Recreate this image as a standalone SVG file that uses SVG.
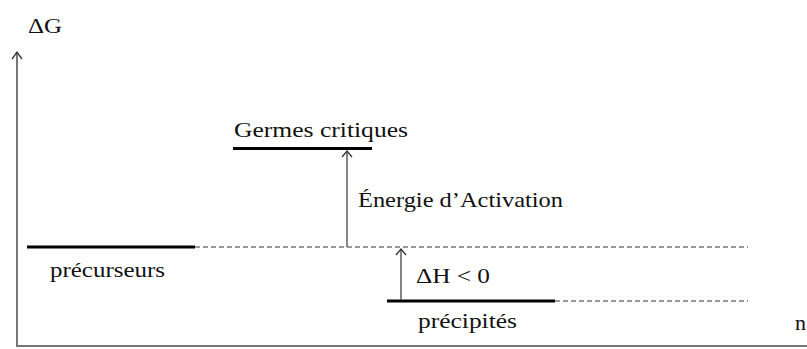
<svg xmlns="http://www.w3.org/2000/svg" width="807" height="349" viewBox="0 0 807 349">
<style>
.lvl{stroke:#000;stroke-width:3;fill:none}
.dash{stroke:#333;stroke-width:1;stroke-dasharray:5 3;fill:none}
.arr{stroke:#444;stroke-width:1.3;fill:none;marker-end:url(#ah)}
.axis{stroke:#777;stroke-width:2;fill:none}
</style>
<defs>
<marker id="ah" markerWidth="14" markerHeight="14" refX="12" refY="7" orient="auto" markerUnits="userSpaceOnUse" viewBox="0 0 14 14">
<polyline points="6,2 12,7 6,12" fill="none" stroke="#333" stroke-width="1.3"/>
</marker>
<marker id="axh" markerWidth="14" markerHeight="14" refX="12" refY="7" orient="auto" markerUnits="userSpaceOnUse" viewBox="0 0 14 14">
<polyline points="5,2 12,7 5,12" fill="none" stroke="#333" stroke-width="1.3"/>
</marker>
</defs>
<g font-family="Liberation Serif, serif" font-size="22" fill="#111">
<g id="axes">
<line class="axis" x1="17" y1="346" x2="17" y2="52" marker-end="url(#axh)"/>
<line class="axis" x1="16" y1="346" x2="807" y2="346"/>
<text x="28" y="33" font-size="20" textLength="34" lengthAdjust="spacingAndGlyphs">ΔG</text>
<text x="795" y="330">n</text>
</g>
<g id="germes">
<line class="lvl" x1="233" y1="148.5" x2="372" y2="148.5"/>
<text x="234" y="137" textLength="174" lengthAdjust="spacingAndGlyphs">Germes critiques</text>
</g>
<g id="precurseurs">
<line class="lvl" x1="27" y1="247" x2="195" y2="247"/>
<text x="50" y="277" textLength="115" lengthAdjust="spacingAndGlyphs">précurseurs</text>
</g>
<g id="precipites">
<line class="lvl" x1="387" y1="301" x2="555" y2="301"/>
<text x="418" y="328" textLength="99" lengthAdjust="spacingAndGlyphs">précipités</text>
</g>
<g id="connectors">
<line class="dash" x1="195" y1="247" x2="748" y2="247"/>
<line class="dash" x1="555" y1="301" x2="748" y2="301"/>
<line class="arr" x1="347" y1="247" x2="347" y2="151"/>
<line class="arr" x1="401" y1="300" x2="401" y2="249"/>
<text x="358" y="207" textLength="205" lengthAdjust="spacingAndGlyphs">Énergie d’Activation</text>
<text x="416" y="283" textLength="74" lengthAdjust="spacingAndGlyphs">ΔH &lt; 0</text>
</g>
</g>
</svg>
